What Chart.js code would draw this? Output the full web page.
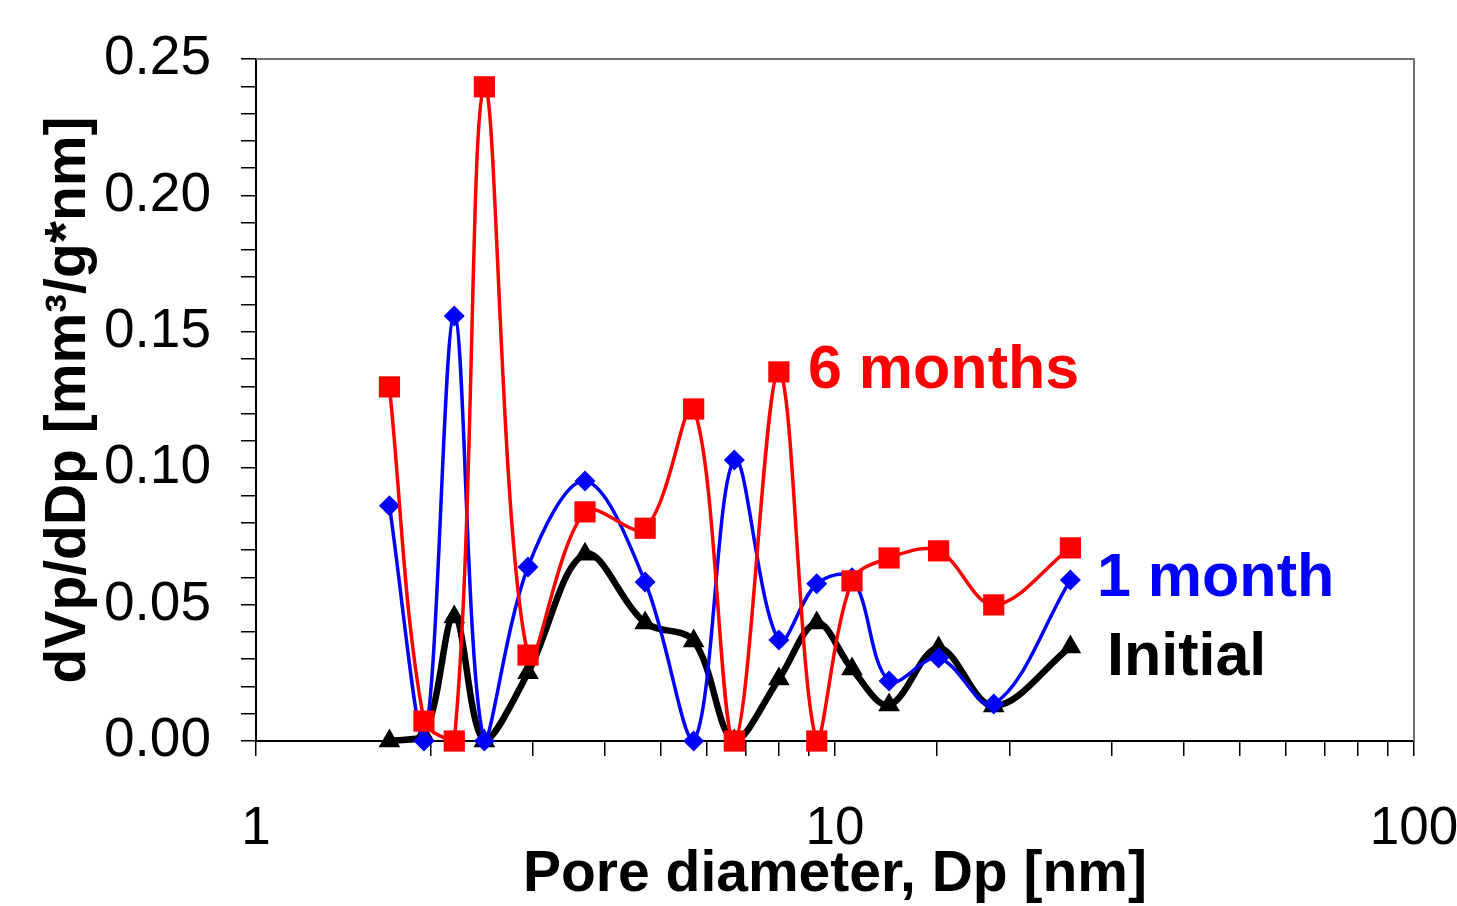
<!DOCTYPE html>
<html>
<head>
<meta charset="utf-8">
<script src="https://cdn.jsdelivr.net/npm/chart.js@4/dist/chart.umd.min.js"></script>
<style>
  html, body { margin: 0; padding: 0; background: #fff; }
  #wrap { width: 1457px; height: 906px; }
</style>
</head>
<body>
<div id="wrap"><canvas id="chart" width="1457" height="906"></canvas></div>
<script>
// pore diameter (nm)
const poreDiameter = [1.7, 1.95, 2.2, 2.48, 2.95, 3.7, 4.7, 5.7, 6.7, 8.0, 9.3, 10.7, 12.4, 15.1, 18.8, 25.5];
// dVp/dDp values per sample
const initial   = [0.000, 0.002, 0.0455, 0.000, 0.025, 0.0685, 0.0433, 0.0367, 0.000, 0.0227, 0.0433, 0.0264, 0.0132, 0.0341, 0.0128, 0.0345];
const oneMonth  = [0.0862, 0.000, 0.1558, 0.000, 0.0638, 0.0953, 0.0583, 0.000, 0.103, 0.037, 0.0576, 0.0598, 0.022, 0.0304, 0.0136, 0.059];
const sixMonths = [0.1298, 0.0073, 0.000, 0.2398, 0.0315, 0.084, 0.078, 0.1217, 0.000, 0.1353, 0.000, 0.0587, 0.0671, 0.0697, 0.0499, 0.0708];
const yTickLabels = ['0.00', '0.05', '0.10', '0.15', '0.20', '0.25'];
const xTickLabels = [1, 10, 100];

function toPoints(ys) {
  return poreDiameter.map((x, i) => ({ x: x, y: ys[i] }));
}

// grey frame on top/right + the series names next to the curves
const framePlugin = {
  id: 'frame',
  beforeDatasetsDraw(chart) {
    const a = chart.chartArea;
    const ctx = chart.ctx;
    ctx.save();
    ctx.strokeStyle = '#707070';
    ctx.lineWidth = 2;
    ctx.beginPath();
    ctx.moveTo(a.left, a.top);
    ctx.lineTo(a.right, a.top);
    ctx.lineTo(a.right, a.bottom);
    ctx.stroke();
    ctx.restore();
  },
  afterDraw(chart) {
    const ctx = chart.ctx;
    const labels = [
      { text: '6 months', color: '#ff0000', x: 808, y: 371 },
      { text: '1 month', color: '#0000ff', x: 1097, y: 579 },
      { text: 'Initial', color: '#000000', x: 1107, y: 658 }
    ];
    ctx.save();
    ctx.font = 'bold 61px "Liberation Sans", Arial, sans-serif';
    ctx.textBaseline = 'middle';
    ctx.textAlign = 'left';
    labels.forEach(l => {
      ctx.fillStyle = l.color;
      ctx.fillText(l.text, l.x, l.y);
    });
    ctx.restore();
  }
};

const ctx = document.getElementById('chart').getContext('2d');
const chart = new Chart(ctx, {
  type: 'line',
  data: {
    datasets: [{
      label: '6 months',
      data: toPoints(sixMonths),
      borderColor: '#ff0000',
      backgroundColor: '#ff0000',
      borderWidth: 3.5,
      pointStyle: 'rect',
      pointRadius: 15,
      pointBorderWidth: 0,
      tension: 0.35,
      clip: false
    }, {
      label: '1 month',
      data: toPoints(oneMonth),
      borderColor: '#0000ff',
      backgroundColor: '#0000ff',
      borderWidth: 3.5,
      pointStyle: 'rectRot',
      pointRadius: 10.5,
      pointBorderWidth: 0,
      tension: 0.35,
      clip: false
    }, {
      label: 'Initial',
      data: toPoints(initial),
      borderColor: '#000000',
      backgroundColor: '#000000',
      borderWidth: 6.5,
      pointStyle: 'triangle',
      pointRadius: 12.5,
      pointBorderWidth: 0,
      tension: 0.35,
      clip: false
    }]
  },
  options: {
    responsive: false,
    animation: false,
    devicePixelRatio: 1,
    layout: { padding: { top: 59, right: 43, left: 0, bottom: 0 } },
    plugins: {
      legend: { display: false },
      tooltip: { enabled: false }
    },
    scales: {
      x: {
        type: 'logarithmic',
        min: 1,
        max: 100,
        afterFit: s => { s.height = 165; s.paddingLeft = 0; s.paddingRight = 0; },
        border: { display: true, color: '#000', width: 2 },
        grid: { drawOnChartArea: false, drawTicks: true, tickLength: 15, color: '#000', lineWidth: 1.5 },
        ticks: {
          autoSkip: false,
          maxRotation: 0,
          padding: 42,
          color: '#000',
          font: { family: '"Liberation Sans", Arial, sans-serif', size: 53 },
          callback: v => {
            const hit = xTickLabels.find(l => Math.abs(l - v) < 1e-6);
            return hit !== undefined ? String(hit) : '';
          }
        },
        title: {
          display: true,
          text: 'Pore diameter, Dp [nm]',
          color: '#000',
          font: { family: '"Liberation Sans", Arial, sans-serif', size: 57, weight: 'bold', lineHeight: 1 },
          padding: { top: 0, bottom: 2 }
        }
      },
      y: {
        min: 0,
        max: 0.25,
        afterFit: s => { s.width = 256; s.paddingTop = 0; s.paddingBottom = 0; },
        border: { display: true, color: '#000', width: 2 },
        grid: { drawOnChartArea: false, drawTicks: true, tickLength: 15, color: '#000', lineWidth: 1.5 },
        ticks: {
          stepSize: 0.01,
          autoSkip: false,
          padding: 30,
          color: '#000',
          font: { family: '"Liberation Sans", Arial, sans-serif', size: 55 },
          callback: (v, i) => (i % 5 === 0 ? yTickLabels[i / 5] : '')
        },
        title: {
          display: true,
          text: 'dVp/dDp [mm³/g*nm]',
          color: '#000',
          font: { family: '"Liberation Sans", Arial, sans-serif', size: 57, weight: 'bold', lineHeight: 1 },
          padding: { top: 41, bottom: 0 }
        }
      }
    }
  },
  plugins: [framePlugin]
});
</script>
</body>
</html>
